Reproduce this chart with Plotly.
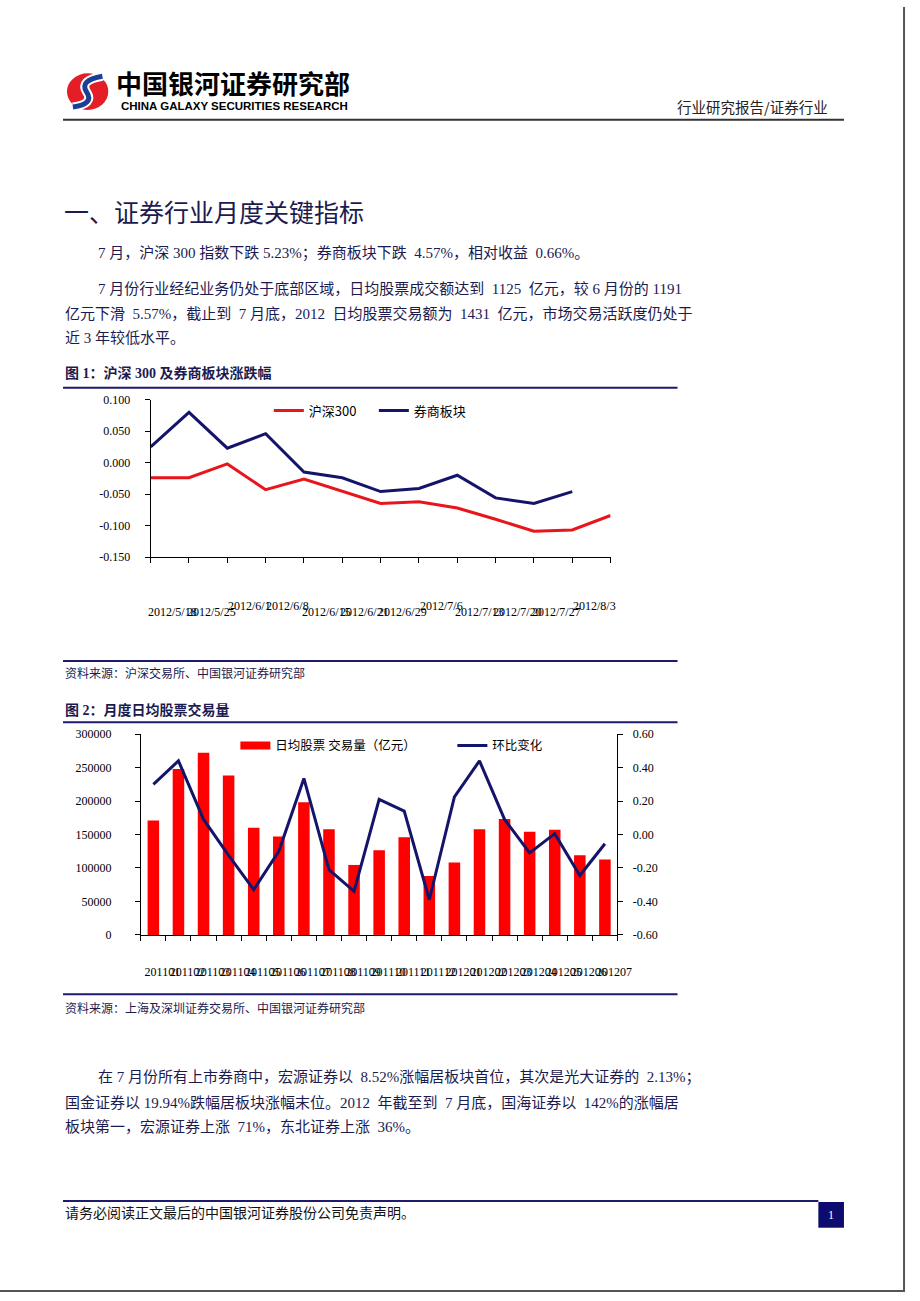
import plotly.graph_objects as go

W, H = 920, 1301


def X(p):
    return p / W


def Y(p):
    return 1 - p / H


# ---------------- data: chart 1 ----------------
weeks = ["2012/5/11", "2012/5/18", "2012/5/25", "2012/6/1", "2012/6/8", "2012/6/15",
         "2012/6/21", "2012/6/29", "2012/7/6", "2012/7/13", "2012/7/20", "2012/7/27", "2012/8/3"]
hs300 = [-0.024, -0.024, -0.002, -0.043, -0.026, -0.046, -0.065, -0.062, -0.072,
         -0.090, -0.109, -0.107, -0.084]
broker = [0.025, 0.080, 0.023, 0.046, -0.015, -0.024, -0.046, -0.041, -0.020,
          -0.056, -0.065, -0.046]
week_labels = weeks[1:]
week_labels_raised = ["2012/6/1", "2012/6/8", "2012/7/6", "2012/8/3"]
y1_tickvals = [0.100, 0.050, 0.000, -0.050, -0.100, -0.150]
y1_ticktext = ["0.100", "0.050", "0.000", "-0.050", "-0.100", "-0.150"]

# ---------------- data: chart 2 ----------------
months = ["201101", "201102", "201103", "201104", "201105", "201106", "201107", "201108",
          "201109", "201110", "201111", "201112", "201201", "201202", "201203", "201204",
          "201205", "201206", "201207"]
volume = [171000, 248000, 272000, 238000, 160000, 147000, 198000, 158000, 104500, 126500,
          146000, 88000, 108000, 158000, 173000, 154000, 157000, 119100, 112500]
mom = [0.30, 0.44, 0.09, -0.125, -0.33, -0.10, 0.335, -0.21, -0.34, 0.21, 0.14, -0.39,
       0.225, 0.44, 0.09, -0.11, 0.005, -0.245, -0.055]
y2_tickvals = [0, 50000, 100000, 150000, 200000, 250000, 300000]
y2_ticktext = ["0", "50000", "100000", "150000", "200000", "250000", "300000"]
y3_tickvals = [-0.6, -0.4, -0.2, 0.0, 0.2, 0.4, 0.6]
y3_ticktext = ["-0.60", "-0.40", "-0.20", "0.00", "0.20", "0.40", "0.60"]

# ---------------- styles ----------------
NAVY = "#1e1a6c"
TEXT = "#1c1b4f"
RED_LINE = "#e8161c"
BLUE_LINE = "#15146b"
SERIF_CJK = "Liberation Serif, Noto Sans CJK SC"
CJK = "Noto Sans CJK SC"
NUM = "Liberation Serif"
BODY = 15

fig = go.Figure()

# chart 1 traces
fig.add_trace(go.Scatter(x=weeks, y=hs300, name="沪深300", mode="lines",
                         line=dict(color=RED_LINE, width=3), xaxis="x", yaxis="y",
                         legend="legend", cliponaxis=False))
fig.add_trace(go.Scatter(x=weeks[:len(broker)], y=broker, name="券商板块", mode="lines",
                         line=dict(color=BLUE_LINE, width=3), xaxis="x", yaxis="y",
                         legend="legend", cliponaxis=False))

# chart 2 traces
fig.add_trace(go.Bar(x=months, y=volume, name="日均股票 交易量（亿元）",
                     marker=dict(color="#ff0000", line=dict(width=0)), width=0.46,
                     xaxis="x2", yaxis="y2", showlegend=False))
fig.add_trace(go.Scatter(x=[months[0]], y=[None], mode="lines", name="日均股票 交易量（亿元）",
                         line=dict(color="#ff0000", width=8), xaxis="x2", yaxis="y2",
                         legend="legend2", hoverinfo="skip"))
fig.add_trace(go.Scatter(x=months, y=mom, name="环比变化", mode="lines",
                         line=dict(color=BLUE_LINE, width=3), xaxis="x2", yaxis="y3",
                         legend="legend2", cliponaxis=False))

axis_common = dict(showline=True, linecolor="black", linewidth=1, ticks="outside",
                   ticklen=5, tickcolor="black", showgrid=False, zeroline=False,
                   fixedrange=True, tickfont=dict(family=NUM, size=12, color="black"))

fig.update_layout(
    width=W, height=H, margin=dict(l=0, r=0, t=0, b=0),
    paper_bgcolor="white", plot_bgcolor="rgba(0,0,0,0)",
    xaxis=dict(domain=[X(153), X(620)], anchor="y", type="category", range=[0, 12],
               showticklabels=False, **axis_common),
    yaxis=dict(domain=[Y(556), Y(397)], anchor="x", range=[-0.15, 0.1],
               tickmode="array", tickvals=y1_tickvals, ticktext=y1_ticktext,
               ticklabelstandoff=12, **axis_common),
    xaxis2=dict(domain=[X(143), X(627)], anchor="y2", type="category", range=[-0.5, 18.5],
                tickson="boundaries", tickmode="array", tickvals=months, ticktext=months,
                tickangle=0, ticklabelstandoff=26, ticklabelshift=9, **axis_common),
    yaxis2=dict(domain=[Y(938), Y(735)], anchor="x2", range=[0, 300000],
                tickmode="array", tickvals=y2_tickvals, ticktext=y2_ticktext,
                ticklabelstandoff=21, **axis_common),
    yaxis3=dict(overlaying="y2", side="right", anchor="x2", range=[-0.6, 0.6],
                tickmode="array", tickvals=y3_tickvals, ticktext=y3_ticktext,
                ticklabelstandoff=7, **axis_common),
    legend=dict(x=X(273), y=Y(408), xanchor="left", yanchor="middle", orientation="h",
                font=dict(family=CJK, size=13, color="black"), bgcolor="rgba(0,0,0,0)",
                itemwidth=30, entrywidth=60, traceorder="normal"),
    legend2=dict(x=X(239), y=Y(747), xanchor="left", yanchor="middle", orientation="h",
                 font=dict(family=CJK, size=12.5, color="black"), bgcolor="rgba(0,0,0,0)",
                 itemwidth=30, entrywidth=172, traceorder="normal"),
    bargap=0.5,
)

# chart 1 x labels (staggered, as in the source)
annotations = []
for lab in week_labels:
    raised = lab in week_labels_raised
    annotations.append(dict(x=lab, xref="x", y=Y(606 if raised else 612), yref="paper",
                            xshift=-16, text=lab, showarrow=False, xanchor="center",
                            yanchor="middle", font=dict(family=NUM, size=12, color="black")))


def txt(s, x, y, size=BODY, color=TEXT, family=SERIF_CJK, anchor="left"):
    annotations.append(dict(x=X(x), y=Y(y), xref="paper", yref="paper", text=s,
                            showarrow=False, xanchor=anchor, yanchor="middle",
                            font=dict(family=family, size=size, color=color)))


NB = "\u00a0"
S2 = NB + " "
# header
txt("<b>中国银河证券研究部</b>", 116, 76, size=26, color="black", family=CJK)
txt("<b>CHINA GALAXY SECURITIES RESEARCH</b>", 121, 100, size=11.5, color="black",
    family="Liberation Sans")
txt("行业研究报告/证券行业", 843, 101, size=14.5, color="#222222", family=CJK, anchor="right")

# title and paragraphs
txt("一、证券行业月度关键指标", 63, 206, size=25, color=TEXT, family=CJK)
txt("7 月，沪深 300 指数下跌 5.23%；券商板块下跌" + S2 + "4.57%，相对收益" + S2 + "0.66%。",
    97, 249)
txt("7 月份行业经纪业务仍处于底部区域，日均股票成交额达到" + S2 + "1125" + S2 + "亿元，较 6 月份的 1191",
    97, 285)
txt("亿元下滑" + S2 + "5.57%，截止到" + S2 + "7 月底，2012" + S2 + "日均股票交易额为" + S2 + "1431"
    + S2 + "亿元，市场交易活跃度仍处于", 64, 310)
txt("近 3 年较低水平。", 64, 334)

# figure captions and sources
txt("<b>图 1：沪深 300 及券商板块涨跌幅</b>", 64, 370, size=14, color=TEXT)
txt("资料来源：沪深交易所、中国银河证券研究部", 64, 673, size=12, color=TEXT, family=CJK)
txt("<b>图 2：月度日均股票交易量</b>", 64, 711, size=14, color=TEXT)
txt("资料来源：上海及深圳证券交易所、中国银河证券研究部", 64, 1011, size=12, color=TEXT, family=CJK)

# closing paragraph
txt("在 7 月份所有上市券商中，宏源证券以" + S2 + "8.52%涨幅居板块首位，其次是光大证券的" + S2 + "2.13%；",
    97, 1082)
txt("国金证券以 19.94%跌幅居板块涨幅末位。2012" + S2 + "年截至到" + S2 + "7 月底，国海证券以" + S2 + "142%的涨幅居",
    64, 1107)
txt("板块第一，宏源证券上涨" + S2 + "71%，东北证券上涨" + S2 + "36%。", 64, 1132)

# footer
txt("请务必阅读正文最后的中国银河证券股份公司免责声明。", 64, 1218, size=14, color="#111111",
    family=CJK)
txt("1", 844, 1221, size=12, color="white", family=NUM, anchor="center")

shapes = []


def hline(y, x0, x1, color=NAVY, width=2):
    shapes.append(dict(type="line", xref="paper", yref="paper", x0=X(x0), x1=X(x1),
                       y0=Y(y), y1=Y(y), line=dict(color=color, width=width)))


hline(114, 64, 857, color="#333333", width=2)
hline(385, 64, 688)
hline(661, 64, 688)
hline(723, 64, 688)
hline(998, 64, 688)
hline(1207, 64, 831)
shapes.append(dict(type="rect", xref="paper", yref="paper", x0=X(831), x1=X(857),
                   y0=Y(1234), y1=Y(1208), fillcolor="#0d0b6e", line=dict(width=0)))
# page edge shadow
shapes.append(dict(type="line", xref="paper", yref="paper", x0=X(918), x1=X(918),
                   y0=Y(0), y1=Y(1299), line=dict(color="#555555", width=2)))
hline(1298, 0, 919, color="#555555", width=2)


# logo
def pth(points):
    s = ""
    for cmd, pts in points:
        s += cmd + " ".join(f"{X(a):.5f},{Y(b):.5f}" for a, b in pts) + " "
    return s.strip()


shapes.append(dict(type="circle", xref="paper", yref="paper", x0=X(68), x1=X(110),
                   y0=Y(104), y1=Y(67), fillcolor="#e41e26", line=dict(width=0)))
swirl = pth([("M", [(104, 70)]), ("Q", [(80, 74), (88, 86)]), ("Q", [(96, 98), (74, 101)])])
shapes.append(dict(type="path", xref="paper", yref="paper", path=swirl,
                   line=dict(color="white", width=9)))
shapes.append(dict(type="path", xref="paper", yref="paper", path=swirl,
                   line=dict(color="#1b3f94", width=5)))

fig.update_layout(annotations=annotations, shapes=shapes)

fig.write_html(
    "out.html",
    config={"displayModeBar": False, "staticPlot": True},
    post_script=(
        "document.documentElement.style.margin='0';"
        "document.body.style.margin='0';document.body.style.padding='0';"
        "document.documentElement.style.overflow='hidden';"
        "var d=document.getElementById('{plot_id}');"
        "d.style.position='fixed';d.style.top='0px';d.style.left='0px';"
    ),
)
